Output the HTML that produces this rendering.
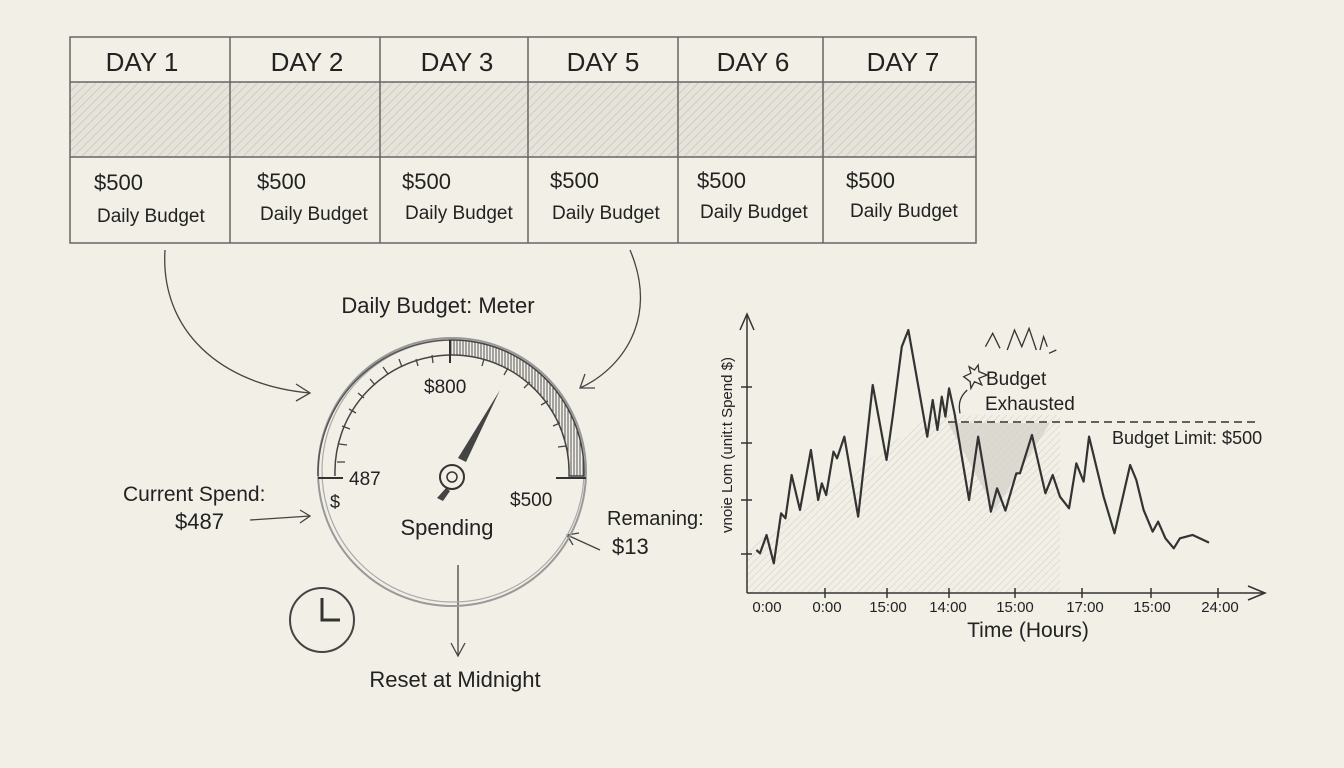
<!DOCTYPE html>
<html><head><meta charset="utf-8"><style>
html,body{margin:0;padding:0;background:#f2efe6;}
svg{display:block;font-family:"Liberation Sans",sans-serif;}
</style></head><body>
<svg width="1344" height="768" viewBox="0 0 1344 768" xmlns="http://www.w3.org/2000/svg">
<defs>
<pattern id="h" width="6" height="6" patternUnits="userSpaceOnUse" patternTransform="rotate(45)">
<rect width="6" height="6" fill="#e6e3da"/><line x1="0" y1="0" x2="0" y2="6" stroke="#c9c6bd" stroke-width="1.5"/></pattern>
<pattern id="h2" width="5" height="5" patternUnits="userSpaceOnUse" patternTransform="rotate(45)">
<line x1="0" y1="0" x2="0" y2="5" stroke="#cfccc3" stroke-width="1"/></pattern>
<pattern id="v" width="3" height="3" patternUnits="userSpaceOnUse"><rect width="3" height="3" fill="#f2efe6"/><line x1="1" y1="0" x2="1" y2="3" stroke="#555" stroke-width="1"/></pattern>
</defs>
<rect width="1344" height="768" fill="#f2efe6"/>
<!-- table -->
<rect x="70" y="82" width="906" height="75" fill="url(#h)"/>
<g stroke="#666" stroke-width="1.5" fill="none">
<rect x="70" y="37" width="906" height="206"/>
<line x1="70" y1="82" x2="976" y2="82"/><line x1="70" y1="157" x2="976" y2="157"/>
<line x1="230" y1="37" x2="230" y2="243"/><line x1="380" y1="37" x2="380" y2="243"/>
<line x1="528" y1="37" x2="528" y2="243"/><line x1="678" y1="37" x2="678" y2="243"/>
<line x1="823" y1="37" x2="823" y2="243"/>
</g>
<g font-size="26" fill="#222" text-anchor="middle">
<text x="142" y="71">DAY 1</text><text x="307" y="71">DAY 2</text><text x="457" y="71">DAY 3</text>
<text x="603" y="71">DAY 5</text><text x="753" y="71">DAY 6</text><text x="903" y="71">DAY 7</text>
</g>
<g font-size="22" fill="#222">
<text x="94" y="190">$500</text><text x="257" y="189">$500</text><text x="402" y="189">$500</text>
<text x="550" y="188">$500</text><text x="697" y="188">$500</text><text x="846" y="188">$500</text>
</g>
<g font-size="19" fill="#222">
<text x="97" y="222">Daily Budget</text><text x="260" y="220">Daily Budget</text><text x="405" y="219">Daily Budget</text>
<text x="552" y="219">Daily Budget</text><text x="700" y="218">Daily Budget</text><text x="850" y="217">Daily Budget</text>
</g>
<!-- arrows from table -->
<g stroke="#444" stroke-width="1.3" fill="none">
<path d="M165 250 C160 330 220 385 310 393"/><path d="M296 384 L310 393 L296 401"/>
<path d="M630 250 C660 320 620 370 580 388"/><path d="M585 374 L580 388 L595 388"/>
<path d="M250 520 L310 516"/><path d="M300 510 L310 516 L300 523"/>
<path d="M600 550 L567 535"/><path d="M573 545 L567 535 L579 533"/>
<path d="M458 565 L458 655"/><path d="M451 643 L458 656 L465 643"/>
</g>
<text x="438" y="313" font-size="22" text-anchor="middle" fill="#222">Daily Budget: Meter</text>
<text x="123" y="501" font-size="21" fill="#222">Current Spend:</text>
<text x="175" y="529" font-size="22" fill="#222">$487</text>
<text x="607" y="525" font-size="20" fill="#222">Remaning:</text>
<text x="612" y="554" font-size="22" fill="#222">$13</text>
<text x="455" y="687" font-size="22" text-anchor="middle" fill="#222">Reset at Midnight</text>
<!-- gauge -->
<g fill="none">
<circle cx="452" cy="472" r="134" stroke="#999" stroke-width="2"/>
<circle cx="453" cy="471" r="131" stroke="#aaa" stroke-width="1.2"/>
<path d="M450 340 A132 132 0 0 1 584 476 L569 476 A117 117 0 0 0 450 355 Z" fill="url(#v)" stroke="#444" stroke-width="1.5"/>
<path d="M318 476 A134 134 0 0 1 450 340" stroke="#555" stroke-width="1.5"/>
<path d="M335 476 A117 117 0 0 1 450 355" stroke="#444" stroke-width="1.5"/>
<line x1="318" y1="478" x2="343" y2="478" stroke="#333" stroke-width="2"/>
<line x1="556" y1="478" x2="586" y2="478" stroke="#333" stroke-width="2"/>
<line x1="450" y1="340" x2="450" y2="363" stroke="#333" stroke-width="2"/>
</g>
<g stroke="#444" stroke-width="1.3">
<line x1="337" y1="462" x2="345" y2="462"/><line x1="339" y1="444" x2="347" y2="445"/>
<line x1="342" y1="426" x2="350" y2="429"/><line x1="349" y1="409" x2="356" y2="413"/>
<line x1="358" y1="393" x2="364" y2="398"/><line x1="370" y1="379" x2="375" y2="385"/>
<line x1="383" y1="367" x2="388" y2="374"/><line x1="399" y1="359" x2="402" y2="367"/>
<line x1="416" y1="359" x2="418" y2="366"/><line x1="432" y1="355" x2="433" y2="363"/>
<line x1="484" y1="359" x2="482" y2="366"/><line x1="508" y1="368" x2="504" y2="375"/>
<line x1="530" y1="382" x2="524" y2="388"/><line x1="548" y1="401" x2="541" y2="405"/>
<line x1="560" y1="423" x2="553" y2="426"/><line x1="566" y1="446" x2="558" y2="447"/>
</g>
<path d="M500 390 L466 462 L458 458 Z" fill="#444"/>
<path d="M446 488 L437 498 L443 501 L450 491 Z" fill="#444"/>
<circle cx="452" cy="477" r="12" fill="#f2efe6" stroke="#333" stroke-width="2"/>
<circle cx="452" cy="477" r="5" fill="none" stroke="#333" stroke-width="1.5"/>
<g fill="#222">
<text x="424" y="393" font-size="19">$800</text>
<text x="349" y="485" font-size="19">487</text>
<text x="330" y="508" font-size="18">$</text>
<text x="510" y="506" font-size="19">$500</text>
<text x="447" y="535" font-size="22" text-anchor="middle">Spending</text>
</g>
<!-- clock -->
<circle cx="322" cy="620" r="32" fill="none" stroke="#444" stroke-width="2"/>
<path d="M322 598 L322 620 L340 620" stroke="#333" stroke-width="3" fill="none"/>
<!-- chart -->
<polygon points="747,593 747,550 930,415 1060,415 1060,593" fill="url(#h2)"/>
<path d="M948 423 L1050 423 L995 510 Z" fill="#d6d3ca" opacity="0.8"/>
<g stroke="#333" stroke-width="1.5" fill="none">
<line x1="747" y1="593" x2="747" y2="316"/><path d="M740 330 L747 314 L754 330"/>
<line x1="747" y1="593" x2="1265" y2="593"/><path d="M1248 586 L1265 593 L1248 600"/>
<line x1="741" y1="387" x2="752" y2="387"/><line x1="741" y1="443" x2="752" y2="443"/>
<line x1="741" y1="500" x2="752" y2="500"/><line x1="741" y1="554" x2="752" y2="554"/>
<line x1="825" y1="588" x2="825" y2="598"/><line x1="887" y1="588" x2="887" y2="598"/>
<line x1="949" y1="588" x2="949" y2="598"/><line x1="1015" y1="588" x2="1015" y2="598"/>
<line x1="1082" y1="588" x2="1082" y2="598"/><line x1="1151" y1="588" x2="1151" y2="598"/>
<line x1="1218" y1="588" x2="1218" y2="598"/>
<line x1="948" y1="422" x2="1255" y2="422" stroke-dasharray="8,5"/>
</g>
<g transform="translate(720,300) scale(0.3636,0.3333)">
<polyline fill="none" stroke="#333" stroke-width="2.2" vector-effect="non-scaling-stroke" stroke-linejoin="round" points="100,750 110,760 128,705 148,790 168,640 180,655 197,525 220,630 250,450 270,600 280,550 292,585 312,455 322,475 342,410 380,650 400,455 420,255 458,480 475,350 500,140 518,90 570,410 585,300 598,390 610,290 620,350 630,265 645,340 685,600 710,410 745,635 762,565 785,632 815,520 825,520 858,405 895,580 915,525 935,590 960,625 980,490 1000,545 1015,410 1055,590 1085,700 1128,495 1145,540 1165,630 1190,695 1205,665 1225,715 1248,745 1265,715 1300,705 1345,728"/>
<g stroke="#333" stroke-width="1.3" vector-effect="non-scaling-stroke" fill="none">
<path d="M730 140 L750 100 L770 145 M790 150 L810 90 L830 140 L850 85 L870 150 M880 150 L890 110 L900 140 M905 160 L925 150" vector-effect="non-scaling-stroke"/>
<path d="M670 230 L690 220 L685 200 L700 210 L710 195 L712 215 L735 225 L712 235 L720 255 L700 245 L690 265 L688 245 Z" vector-effect="non-scaling-stroke"/>
<path d="M680 270 C660 290 655 310 660 340" vector-effect="non-scaling-stroke"/>
</g>
</g>
<g fill="#222">
<text x="986" y="385" font-size="19">Budget</text>
<text x="985" y="410" font-size="19">Exhausted</text>
<text x="1112" y="444" font-size="18">Budget Limit: $500</text>
<g font-size="15" text-anchor="middle">
<text x="767" y="612">0:00</text><text x="827" y="612">0:00</text><text x="888" y="612">15:00</text>
<text x="948" y="612">14:00</text><text x="1015" y="612">15:00</text><text x="1085" y="612">17:00</text>
<text x="1152" y="612">15:00</text><text x="1220" y="612">24:00</text>
</g>
<text x="1028" y="637" font-size="21" text-anchor="middle">Time (Hours)</text>
<text transform="translate(732,445) rotate(-90)" font-size="15" text-anchor="middle">vnoie Lom (unit:t    Spend $)</text>
</g>
</svg>
</body></html>
